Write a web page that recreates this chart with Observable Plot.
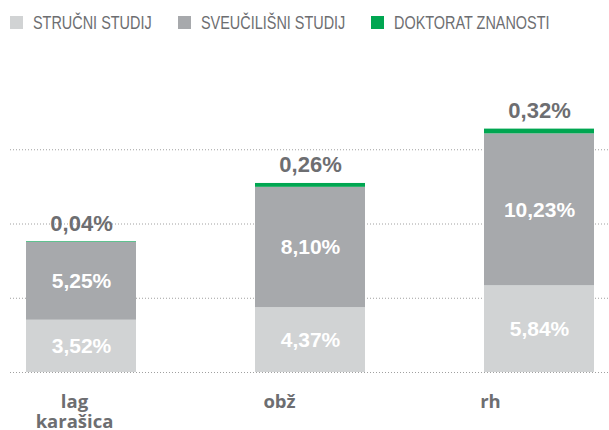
<!DOCTYPE html>
<html><head><meta charset="utf-8">
<script src="https://cdn.jsdelivr.net/npm/d3@7"></script>
<script src="https://cdn.jsdelivr.net/npm/@observablehq/plot@0.6"></script>
<style>
body{margin:0;background:#fff;}
#legend{height:40px;padding-left:10px;box-sizing:border-box;overflow:hidden;display:flex;align-items:center;padding-top:5px;
  font-family:'Liberation Sans', Arial, sans-serif;font-size:18.5px;color:#6d6e71;white-space:nowrap;}
.lg-item{display:inline-flex;align-items:center;margin-right:26px;}
.lg-sw{width:13px;height:13px;display:inline-block;margin-right:10px;flex:none;}
.lg-tx{display:inline-block;transform:scaleX(0.78);transform-origin:0 50%;}
</style></head>
<body><div id="legend"></div><div id="chart"></div>
<script>
const categories = ["lag\nkarašica", "obž", "rh"];
const seriesNames = ["STRUČNI STUDIJ", "SVEUČILIŠNI STUDIJ", "DOKTORAT ZNANOSTI"];
const strucni = [3.52, 4.37, 5.84];
const sveucilisni = [5.25, 8.10, 10.23];
const doktorat = [0.04, 0.26, 0.32];
const gridTicks = [0, 5, 10, 15];
const colors = ["#d1d3d4", "#a7a9ac", "#00a651"];
const labelDx = [-7, -31, -49];

const seriesValues = [strucni, sveucilisni, doktorat];
const data = [];
categories.forEach((c, i) => seriesNames.forEach((s, j) => data.push({cat: c, type: s, value: seriesValues[j][i]})));
const fmt = v => v.toFixed(2).replace(".", ",") + "%";
const textGray = "#6d6e71";

const colorOpts = {domain: seriesNames, range: colors};

// legend (HTML, from the color scale)
const legendEl = document.getElementById("legend");
const colorScale = Plot.scale({color: {type: "categorical", ...colorOpts}});
seriesNames.forEach(name => {
  const item = document.createElement("span");
  item.className = "lg-item";
  const sw = document.createElement("span");
  sw.className = "lg-sw";
  sw.style.background = colorScale.apply(name);
  const tx = document.createElement("span");
  tx.className = "lg-tx";
  tx.textContent = name;
  item.append(sw, tx);
  legendEl.append(item);
});
legendEl.querySelectorAll(".lg-tx").forEach(t => {
  const w = t.offsetWidth;
  t.style.marginRight = (-(w * 0.22)) + "px";
});

const chart = Plot.plot({
  width: 609,
  height: 390,
  marginLeft: 10,
  marginRight: 0,
  marginTop: 35,
  marginBottom: 58,
  style: {fontFamily: "'Liberation Sans', Arial, sans-serif", background: "#fff"},
  x: {domain: categories, paddingInner: 0.52, paddingOuter: 0.065, axis: null},
  y: {domain: [0, 20], axis: null},
  color: colorOpts,
  marks: [
    Plot.ruleY(gridTicks, {stroke: "#a0a0a0", strokeDasharray: "1,2", strokeWidth: 1}),
    Plot.barY(data, {x: "cat", y: "value", fill: "type"}),
    Plot.text(data, Plot.stackY({
      x: "cat", y: "value", z: "type",
      text: d => d.type !== seriesNames[2] ? fmt(d.value) : "",
      fill: "white", fontSize: 21, fontWeight: "bold"
    })),
    Plot.text(data, Plot.stackY2({
      x: "cat", y: "value", z: "type",
      text: d => d.type === seriesNames[2] ? fmt(d.value) : "",
      fill: textGray, fontSize: 22, fontWeight: "bold", lineAnchor: "bottom", dy: -11
    })),
    ...categories.map((c, i) => Plot.text([c], {
      x: d => d, y: () => 0, text: d => d,
      dx: labelDx[i], dy: 21, lineAnchor: "top", lineHeight: 1.1,
      fill: textGray, fontSize: 18.5, fontWeight: "bold", fontFamily: "'Open Sans', sans-serif"
    }))
  ]
});
document.getElementById("chart").append(chart);
</script></body></html>
